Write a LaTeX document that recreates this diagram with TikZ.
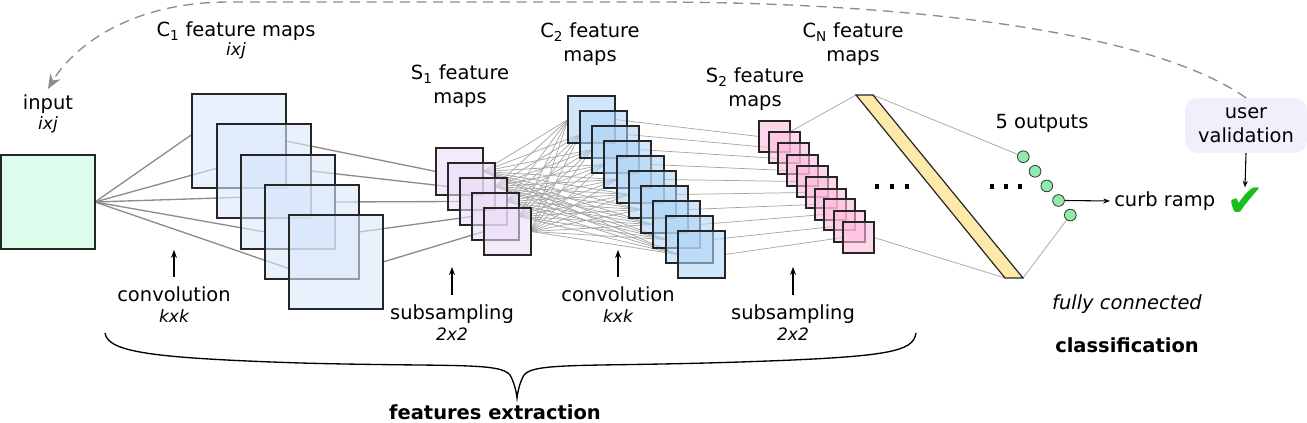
\documentclass[tikz,border=0pt]{standalone}
\usepackage{fontspec}
\setmainfont{DejaVu Sans}
\usetikzlibrary{arrows.meta,calc}
\pgfdeclarelayer{bg}
\pgfsetlayers{bg,main}
\definecolor{inputfill}{RGB}{221,253,236}
\definecolor{conefill}{RGB}{218,232,252}
\definecolor{sonefill}{RGB}{235,220,247}
\definecolor{ctwofill}{RGB}{177,213,247}
\definecolor{stwofill}{RGB}{255,188,222}
\definecolor{cnfill}{RGB}{253,233,169}
\definecolor{outfill}{RGB}{144,234,170}
\definecolor{userfill}{RGB}{240,240,252}
\definecolor{checkgreen}{RGB}{25,190,25}
\begin{document}
\begin{tikzpicture}[x=0.75pt,y=-0.75pt,
  fmap/.style={draw=black!85, line width=1.1pt, fill opacity=0.6, inner sep=0pt, outer sep=0pt, anchor=north west},
  lbl/.style={font=\fontsize{14.6}{18}\selectfont, inner sep=0pt, anchor=base},
  sublbl/.style={font=\fontsize{12.8}{14}\selectfont\itshape, inner sep=0pt, anchor=base},
  conn/.style={draw=black!45, line width=1pt},
  fcline/.style={draw=black!35, line width=0.55pt},
  uparrow/.style={draw=black, -{Stealth[length=6pt,width=4.5pt]}, line width=0.9pt},
  blackarrow/.style={draw=black, -{Stealth[length=5pt,width=3.8pt]}, line width=0.8pt},
]
\useasboundingbox (0,0) rectangle (1307,423);

% input
\node[fmap, fill=inputfill, fill opacity=1, minimum size=70.5pt] (input) at (1,155) {};
% C1 maps
\foreach \i/\x/\y in {0/192/94,1/217/124,2/241/155,3/265/185,4/289/215}
  \node[fmap, fill=conefill, minimum size=70.5pt] (ca\i) at (\x,\y) {};
% S1 maps
\foreach \i/\x/\y in {0/436/148,1/448/163,2/460/178,3/472/193,4/484/208}
  \node[fmap, fill=sonefill, minimum size=35.25pt] (sa\i) at (\x,\y) {};
% C2 maps
\foreach \i/\x/\y in {0/568/96,1/580/111,2/592/126,3/604/141,4/617/156,5/629/171,6/641/186,7/653/201,8/666/216,9/678/231}
  \node[fmap, fill=ctwofill, minimum size=35.25pt] (cb\i) at (\x,\y) {};
% S2 maps
\foreach \i/\x/\y in {0/759/121,1/769/132,2/778/143,3/787/155,4/797/166,5/806/177,6/815/189,7/824/199,8/834/211,9/843/222}
  \node[fmap, fill=stwofill, minimum size=23.25pt] (sb\i) at (\x,\y) {};
% CN bar
\coordinate (cntl) at (856,95);
\coordinate (cntr) at (873,95);
\coordinate (cnbr) at (1023,278);
\coordinate (cnbl) at (1005,278);
\draw[fill=cnfill, line width=0.9pt, draw=black!85] (cntl) -- (cntr) -- (cnbr) -- (cnbl) -- cycle;
% outputs
\foreach \i in {0,...,4}
  \node[circle, draw=black!80, fill=outfill, line width=0.6pt, minimum size=8.8pt, inner sep=0pt] (out\i) at ({1023.3+11.75*\i},{156.7+14.6*\i}) {};

% dots
\foreach \x in {877,892,907,992,1006,1020}
  \fill (\x-2.2,184.5) rectangle (\x+2.2,188.9);

% connections (behind)
\begin{pgfonlayer}{bg}
\foreach \i/\f in {0/0.43,1/0.47,2/0.45,3/0.50,4/0.57}
  \draw[conn] (input.east) -- ($(ca\i.north west)!\f!(ca\i.south west)$);
\foreach \i in {0,...,4}
  \draw[conn] (ca\i.east) -- (sa\i.west);
\foreach \i in {0,...,4}
  \foreach \j in {0,...,9}
    \draw[fcline] (sa\i.east) -- (cb\j.west);
\foreach \i in {0,...,9}
  \draw[fcline] (cb\i.east) -- (sb\i.west);
\draw[fcline] ($(sb0.north east)!0.35!(sb0.south east)$) -- (cntl);
\draw[fcline] (sb9.east) -- (cnbl);
\draw[fcline] (cntr) -- (out0);
\draw[fcline] (cnbr) -- (out4);
\end{pgfonlayer}

% labels
\node[lbl] (inlbl) at (48,110) {input};
\node[sublbl] (insize) at (48,130) {ixj};
\node[lbl] (conelbl) at (236,37) {C\textsubscript{1} feature maps};
\node[sublbl] (conesize) at (236,56) {ixj};
\node[lbl] (sonelbl) at (460,80) {S\textsubscript{1} feature};
\node[lbl] (sonelblb) at (460,104) {maps};
\node[lbl] (ctwolbl) at (590,38) {C\textsubscript{2} feature};
\node[lbl] (ctwolblb) at (590,62) {maps};
\node[lbl] (stwolbl) at (755,83) {S\textsubscript{2} feature};
\node[lbl] (stwolblb) at (755,107) {maps};
\node[lbl] (cnlbl) at (853,38) {C\textsubscript{N} feature};
\node[lbl] (cnlblb) at (853,62) {maps};
\node[lbl] (outlbl) at (1042,129) {5 outputs};

\node[lbl] (convone) at (174,302) {convolution};
\node[sublbl] (convonek) at (174,323) {kxk};
\node[lbl] (subone) at (452,320) {subsampling};
\node[sublbl] (subonek) at (452,341) {2x2};
\node[lbl] (convtwo) at (618,302) {convolution};
\node[sublbl] (convtwok) at (618,323) {kxk};
\node[lbl] (subtwo) at (793,320) {subsampling};
\node[sublbl] (subtwok) at (793,341) {2x2};

\coordinate (convonetip) at (174,250);
\coordinate (subonetip) at (452,267);
\coordinate (convtwotip) at (618,250);
\coordinate (subtwotip) at (793,267);
\draw[uparrow] ($(convone.north)+(0,-10)$) -- (convonetip);
\draw[uparrow] ($(subone.north)+(0,-10)$) -- (subonetip);
\draw[uparrow] ($(convtwo.north)+(0,-10)$) -- (convtwotip);
\draw[uparrow] ($(subtwo.north)+(0,-10)$) -- (subtwotip);

\node[lbl, font=\fontsize{14.6}{18}\selectfont\itshape] (fclbl) at (1127,310) {fully connected};
\node[lbl, font=\fontsize{14.6}{18}\selectfont\bfseries] (classlbl) at (1127,353) {classification};
\node[lbl, font=\fontsize{14.6}{18}\selectfont\bfseries] (featlbl) at (495,420) {features extraction};

% brace
\draw[line width=1pt] (105,333) .. controls (108,352) and (150,358) .. (300,363)
  .. controls (450,367) and (500,362) .. (510,375)
  .. controls (514,382) and (516,390) .. (517,398)
  .. controls (518,390) and (520,382) .. (524,375)
  .. controls (534,362) and (590,367) .. (740,362)
  .. controls (890,357) and (913,352) .. (916,333);

% output / validation
\node[lbl, anchor=west, inner xsep=3pt] (curb) at (1110,201) {curb ramp};
\draw[blackarrow] (out3.east) -- (curb.west);
\node[fill=userfill, rounded corners=9pt, minimum width=91.5pt, minimum height=41pt,
  align=center, font=\fontsize{14.6}{18}\selectfont, inner sep=0pt] (ubox) at (1246,125.5) {user\\validation};
\node[text=checkgreen, font=\fontsize{34}{34}\selectfont, inner sep=0pt] (check) at (1245,202) {✔};
\draw[blackarrow] (ubox.south) -- (check.north);

% feedback dashed arc
\draw[draw=black!45, line width=1pt, dash pattern=on 7.5pt off 5pt, -{Stealth[length=11pt,width=9pt]}]
  (ubox.north) .. controls (1150,30) and (900,2) .. (650,2) -- (230,2)
  .. controls (120,2) and (68,55) .. ($(inlbl.north)+(0,-6)$);
\end{tikzpicture}
\end{document}
